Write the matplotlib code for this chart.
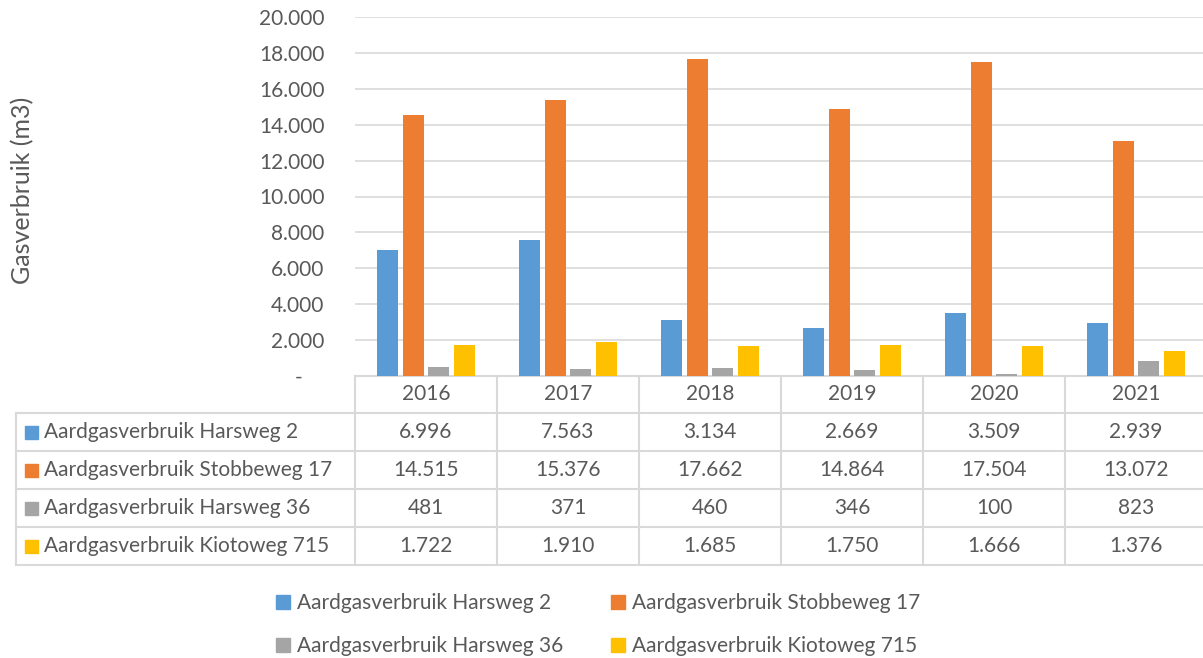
import matplotlib
matplotlib.use("Agg")
import matplotlib.pyplot as plt
from matplotlib.lines import Line2D
from matplotlib.patches import Rectangle
import numpy as np

plt.rcParams['font.family'] = ['Lato', 'DejaVu Sans']

years = ['2016', '2017', '2018', '2019', '2020', '2021']
series_names = ['Aardgasverbruik Harsweg 2', 'Aardgasverbruik Stobbeweg 17',
                'Aardgasverbruik Harsweg 36', 'Aardgasverbruik Kiotoweg 715']
harsweg_2 = [6996, 7563, 3134, 2669, 3509, 2939]
stobbeweg_17 = [14515, 15376, 17662, 14864, 17504, 13072]
harsweg_36 = [481, 371, 460, 346, 100, 823]
kiotoweg_715 = [1722, 1910, 1685, 1750, 1666, 1376]
colors = ['#5B9BD5', '#ED7D31', '#A5A5A5', '#FFC000']

series = [harsweg_2, stobbeweg_17, harsweg_36, kiotoweg_715]
txt = '#595959'
grid = '#D9D9D9'
fs = 15

W, H = 1203, 658


def nl(v):
    # Dutch thousands separator
    if v == 0:
        return '-    '
    return f'{int(v):,}'.replace(',', '.')


fig = plt.figure(figsize=(W / 100, H / 100), dpi=100)
# plot area in pixels: x 355..1207, y 17..376
ax = fig.add_axes([355 / W, 1 - 376 / H, 852 / W, 359 / H])

x = np.arange(len(years))
bw = 0.148
step = 0.182
for i, (vals, c) in enumerate(zip(series, colors)):
    ax.bar(x + (i - 1.5) * step, vals, width=bw, color=c, zorder=3)

ax.set_xlim(-0.5, len(years) - 0.5)
ax.set_ylim(0, 20000)
ax.set_yticks(np.arange(0, 20001, 2000))
ax.yaxis.set_major_formatter(plt.FuncFormatter(lambda v, p: nl(v)))
ax.tick_params(axis='y', length=0, pad=22, labelsize=fs, labelcolor=txt)
ax.set_xticks([])
ax.grid(axis='y', color=grid, lw=1.2, zorder=0)
for s in ax.spines.values():
    s.set_visible(False)
ax.set_ylabel('Gasverbruik (m3)', fontsize=18, color=txt)
ax.yaxis.set_label_coords((34 - 355) / 852, (376 - 190) / 359)

# data table below the plot
tr = ax.get_xaxis_transform()
ax_h = 359.0
rows_px = [376, 413, 451, 489, 527, 565]
rows = [(376 - r) / ax_h for r in rows_px]
left = -0.5 - 339 / 142.0
right = len(years) - 0.5
lw = 1.5

# horizontal lines
ax.add_line(Line2D([-0.5, right], [rows[0], rows[0]], transform=tr, color=grid, lw=lw, clip_on=False))
for r in rows[1:]:
    ax.add_line(Line2D([left, right], [r, r], transform=tr, color=grid, lw=lw, clip_on=False))
# vertical lines
ax.add_line(Line2D([left, left], [rows[1], rows[-1]], transform=tr, color=grid, lw=lw, clip_on=False))
for k in range(len(years) + 1):
    xv = k - 0.5
    ax.add_line(Line2D([xv, xv], [rows[0], rows[-1]], transform=tr, color=grid, lw=lw, clip_on=False))

for j, yr in enumerate(years):
    ax.text(j, (rows[0] + rows[1]) / 2, yr, transform=tr, ha='center', va='center',
            fontsize=fs, color=txt, clip_on=False)

sq = 13 / 142.0
for i, (name, vals, c) in enumerate(zip(series_names, series, colors)):
    yc = (rows[i + 1] + rows[i + 2]) / 2
    ax.add_patch(Rectangle((left + 9 / 142.0, yc - 6.5 / ax_h), sq, 13 / ax_h, transform=tr,
                           color=c, clip_on=False))
    ax.text(left + 28 / 142.0, yc, name, transform=tr, ha='left', va='center',
            fontsize=fs, color=txt, clip_on=False)
    for j, v in enumerate(vals):
        ax.text(j, yc, nl(v), transform=tr, ha='center', va='center',
                fontsize=fs, color=txt, clip_on=False)

# legend
handles = [Rectangle((0, 0), 1, 1, color=c) for c in colors]
order = [0, 2, 1, 3]
fig.legend([handles[i] for i in order], [series_names[i] for i in order],
           loc='upper left', bbox_to_anchor=(276 / W, 1 - 593 / H), ncol=2,
           frameon=False, fontsize=fs, labelcolor=txt, handlelength=0.65,
           handleheight=0.65, handletextpad=0.35, columnspacing=2.3,
           labelspacing=1.1, borderpad=0, borderaxespad=0)

fig.savefig('out.png', dpi=100)
